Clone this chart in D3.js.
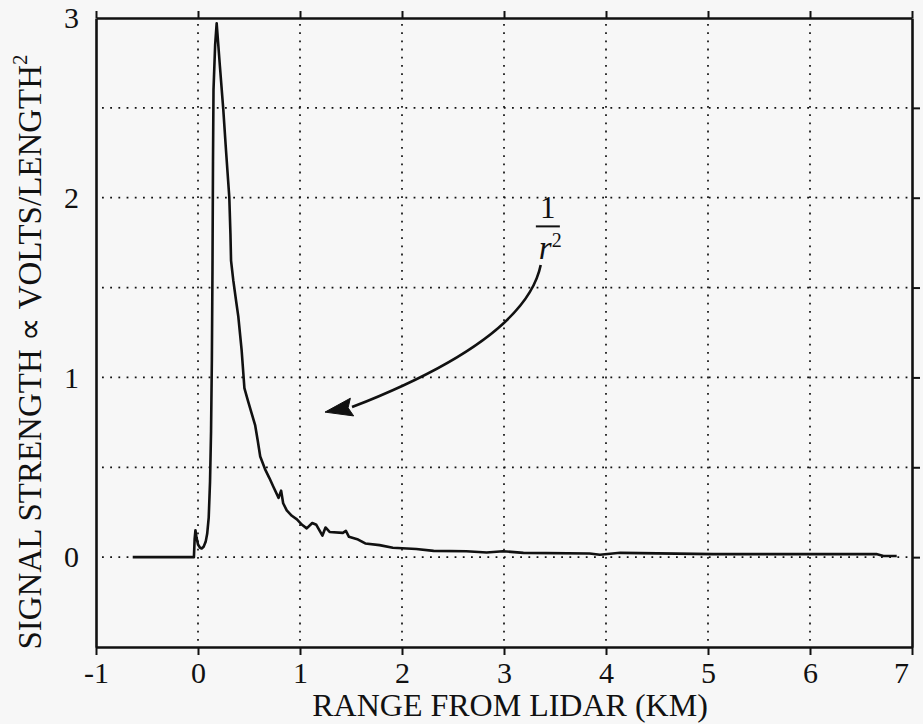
<!DOCTYPE html>
<html>
<head>
<meta charset="utf-8">
<script src="https://cdn.jsdelivr.net/npm/d3@7"></script>
</head>
<body style="margin:0;background:#f7f7f7">
<svg id="lidar" width="923" height="724"></svg>
<script>
// Lidar return trace: range from the lidar (km) and signal strength
const rangeKm = [-0.64, -0.04, -0.033, -0.025, -0.015, 0.0, 0.02, 0.036, 0.055, 0.075,
  0.09, 0.105, 0.118, 0.128, 0.136, 0.142, 0.147, 0.152, 0.168, 0.183,
  0.215, 0.248, 0.275, 0.307, 0.318, 0.324, 0.346, 0.375, 0.395, 0.428,
  0.455, 0.47, 0.49, 0.526, 0.56, 0.585, 0.61, 0.657, 0.70, 0.74,
  0.79, 0.815, 0.835, 0.87, 0.92, 0.97, 1.02, 1.066, 1.12, 1.16,
  1.22, 1.25, 1.29, 1.42, 1.45, 1.48, 1.57, 1.64, 1.78, 1.91,
  2.14, 2.31, 2.63, 2.83, 2.99, 3.19, 3.84, 3.94, 4.14, 5.05,
  6.03, 6.65, 6.72, 6.85];
const signal = [0.0, 0.0, 0.10, 0.15, 0.11, 0.07, 0.052, 0.048, 0.058, 0.085,
  0.13, 0.22, 0.42, 0.70, 1.10, 1.60, 2.20, 2.60, 2.85, 2.97,
  2.73, 2.49, 2.26, 2.00, 1.80, 1.65, 1.54, 1.42, 1.34, 1.15,
  0.94, 0.91, 0.87, 0.80, 0.735, 0.65, 0.56, 0.49, 0.44, 0.39,
  0.33, 0.37, 0.30, 0.26, 0.23, 0.21, 0.18, 0.16, 0.19, 0.18,
  0.12, 0.165, 0.14, 0.135, 0.146, 0.113, 0.098, 0.076, 0.067, 0.052,
  0.045, 0.035, 0.033, 0.026, 0.033, 0.024, 0.020, 0.013, 0.024, 0.017,
  0.017, 0.017, 0.006, 0.006];

// Axis ticks and grid
const xTicks = [-1, 0, 1, 2, 3, 4, 5, 6, 7];
const xGrid = [0, 1, 2, 3, 4, 5, 6];
const yTicks = [0, 1, 2, 3];
const yGrid = [0, 0.5, 1, 1.5, 2, 2.5];
const xDomain = [-1, 7];
const yDomain = [-0.5, 3];

const xTitle = "RANGE FROM LIDAR (KM)";
const yTitle = "SIGNAL STRENGTH \u221D VOLTS/LENGTH";
const yTitleSup = "2";

// 1/r² call-out: label anchor and curved arrow (data units)
const noteAt = [3.43, 1.885];
const arrowStart = [3.36, 1.625];
const arrowCtrl = [3.21, 1.21];
const arrowBase = [1.51, 0.835];
const arrowTip = [1.245, 0.807];

const face = "Liberation Serif";
const ink = "#111";

const svg = d3.select("#lidar");
const x = d3.scaleLinear().domain(xDomain).range([96, 912]);
const y = d3.scaleLinear().domain(yDomain).range([647, 18]);

// dotted grid
const grid = svg.append("g").attr("stroke", ink).attr("stroke-width", 1.7)
  .attr("stroke-dasharray", "1.8,6.4").attr("fill", "none");
grid.selectAll("line.v").data(xGrid).join("line").attr("class", "v")
  .attr("x1", d => x(d)).attr("x2", d => x(d))
  .attr("y1", y(yDomain[1]) + 6).attr("y2", y(yDomain[0]));
grid.selectAll("line.h").data(yGrid).join("line").attr("class", "h")
  .attr("y1", d => y(d)).attr("y2", d => y(d))
  .attr("x1", x(xDomain[0]) + 6).attr("x2", x(xDomain[1]));

// frame axes
function styleAxis(g) {
  g.attr("font-family", face).attr("font-size", 30);
  g.selectAll("path.domain").attr("stroke", ink).attr("stroke-width", 2.6);
  g.selectAll(".tick line").attr("stroke", ink).attr("stroke-width", 2);
  g.selectAll(".tick text").attr("fill", ink).attr("font-family", face).attr("font-size", 30);
}

const xAxisG = svg.append("g").attr("transform", `translate(0,${y(yDomain[0])})`)
  .call(d3.axisBottom(x).tickValues(xTicks).tickSize(8).tickSizeOuter(0).tickPadding(7)
    .tickFormat(d => String(d)))
  .call(styleAxis);
// the last label sits just inside the right edge
xAxisG.selectAll(".tick text").filter(d => d === xDomain[1]).attr("dx", -11);

svg.append("g").attr("transform", `translate(0,${y(yDomain[1])})`)
  .call(d3.axisTop(x).tickValues(xTicks).tickSize(7).tickSizeOuter(0).tickFormat(""))
  .call(styleAxis);

svg.append("g").attr("transform", `translate(${x(xDomain[1])},0)`)
  .call(d3.axisRight(y).tickValues(yGrid).tickSize(8).tickSizeOuter(0).tickFormat(""))
  .call(styleAxis);

svg.append("g").attr("transform", `translate(${x(xDomain[0])},0)`)
  .call(d3.axisLeft(y).tickValues(yTicks).tickSize(0).tickSizeOuter(0).tickPadding(17)
    .tickFormat(d => String(d)))
  .call(styleAxis);

// signal trace
const pts = rangeKm.map((r, i) => [r, signal[i]]);
svg.append("path").datum(pts)
  .attr("fill", "none").attr("stroke", ink).attr("stroke-width", 2.6)
  .attr("stroke-linejoin", "round")
  .attr("d", d3.line().x(d => x(d[0])).y(d => y(d[1])));

// axis titles
svg.selectAll("text.xtitle").data([xTitle]).join("text").attr("class", "xtitle")
  .attr("x", 510).attr("y", 716).attr("text-anchor", "middle")
  .attr("font-size", 32).attr("font-family", face).attr("fill", ink)
  .text(d => d);

const yt = svg.append("text").attr("transform", "translate(41,352) rotate(-90)")
  .attr("text-anchor", "middle").attr("fill", ink)
  .attr("font-family", face).attr("font-size", 33);
yt.append("tspan").text(yTitle);
yt.append("tspan").attr("dy", -14).attr("font-size", 21).text(yTitleSup);

// 1/r² label
const note = svg.append("g").attr("fill", ink).attr("font-family", face);
note.append("text").attr("x", x(noteAt[0])).attr("y", y(noteAt[1]))
  .attr("text-anchor", "middle").attr("font-size", 31).text("1");
note.append("line")
  .attr("x1", x(noteAt[0]) - 12).attr("x2", x(noteAt[0]) + 12)
  .attr("y1", y(noteAt[1]) + 8).attr("y2", y(noteAt[1]) + 8)
  .attr("stroke", ink).attr("stroke-width", 2);
const rt = note.append("text").attr("x", x(noteAt[0]) - 9).attr("y", y(noteAt[1]) + 41)
  .attr("font-size", 33).attr("font-style", "italic");
rt.append("tspan").text("r");
rt.append("tspan").attr("font-size", 20).attr("font-style", "normal").attr("dy", -12).text("2");

// curved arrow
const p0 = [x(arrowStart[0]), y(arrowStart[1])];
const pc = [x(arrowCtrl[0]), y(arrowCtrl[1])];
const pb = [x(arrowBase[0]), y(arrowBase[1])];
const pt = [x(arrowTip[0]), y(arrowTip[1])];
const curve = d3.path();
curve.moveTo(p0[0], p0[1]);
curve.quadraticCurveTo(pc[0], pc[1], pb[0], pb[1]);
svg.append("path").attr("d", curve.toString())
  .attr("fill", "none").attr("stroke", ink).attr("stroke-width", 2.6);

const dx = pt[0] - pb[0], dy = pt[1] - pb[1];
const len = Math.hypot(dx, dy);
const nx = -dy / len, ny = dx / len;
const hw = 9;
const head = d3.path();
head.moveTo(pt[0], pt[1]);
head.lineTo(pb[0] + nx * hw, pb[1] + ny * hw);
head.lineTo(pb[0] + dx / len * 4, pb[1] + dy / len * 4);
head.lineTo(pb[0] - nx * hw, pb[1] - ny * hw);
head.closePath();
svg.append("path").attr("d", head.toString()).attr("fill", ink).attr("stroke", ink).attr("stroke-width", 1);
</script>
</body>
</html>
